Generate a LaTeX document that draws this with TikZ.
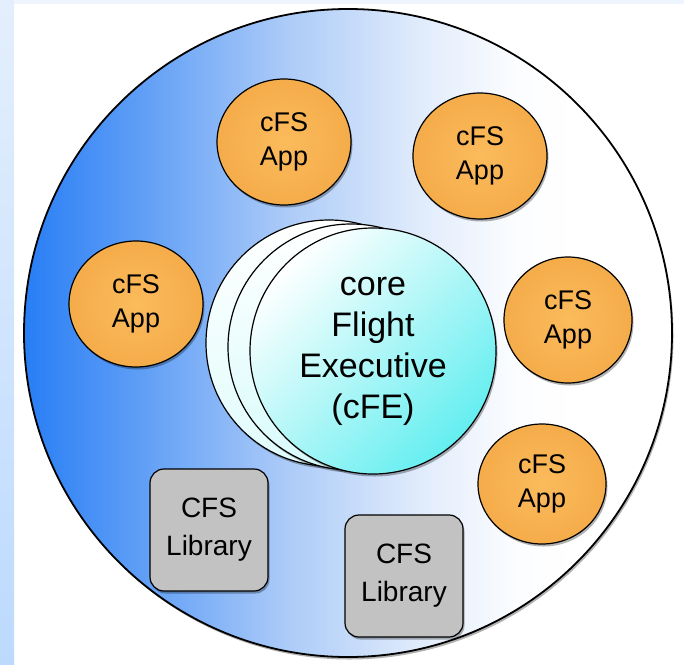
\documentclass[tikz,border=0pt]{standalone}
\usepackage{fontspec}
\setmainfont{Liberation Sans}
\usetikzlibrary{shapes.geometric,shadows}
\definecolor{discblue}{RGB}{40,126,245}
\definecolor{discmid}{RGB}{95,158,246}
\definecolor{disclight}{RGB}{170,202,248}
\definecolor{discpale}{RGB}{222,234,251}
\definecolor{discwhite}{RGB}{252,253,255}
\definecolor{appinner}{RGB}{251,187,92}
\definecolor{appouter}{RGB}{245,172,74}
\definecolor{libgray}{RGB}{194,194,194}
\definecolor{cfecyan}{RGB}{100,238,240}
\definecolor{stripTop}{RGB}{228,239,253}
\definecolor{stripBottom}{RGB}{187,218,254}
\definecolor{topstrip}{RGB}{238,245,254}
\pgfdeclarehorizontalshading{discshade}{100bp}{color(0bp)=(discblue); color(25bp)=(discblue); color(34bp)=(discmid); color(45bp)=(disclight); color(55bp)=(discpale); color(63bp)=(discwhite); color(68bp)=(white); color(100bp)=(white)}
\begin{document}
\begin{tikzpicture}[x=1pt,y=-1pt,
  softshadow/.style={drop shadow={shadow xshift=1.5pt,shadow yshift=-2.5pt,opacity=0.3,fill=black}},
  app/.style={ellipse,draw=black,line width=1.2pt,minimum width=134pt,minimum height=126pt,inner sep=0pt,
    align=center,shading=radial,inner color=appinner,outer color=appouter,softshadow,
    font=\fontsize{27}{34}\selectfont},
  lib/.style={rectangle,rounded corners=14pt,draw=black,line width=1.2pt,fill=libgray,
    minimum width=118pt,minimum height=122pt,inner sep=0pt,align=center,softshadow,
    font=\fontsize{28}{38}\selectfont},
  cfe/.style={circle,draw=black,line width=1.2pt,minimum size=246pt,inner sep=0pt,softshadow}]
\useasboundingbox (0,0) rectangle (684,664);
% background strips
\fill [top color=stripTop,bottom color=stripBottom] (0,0) rectangle (14,664);
\fill [topstrip] (14,0) rectangle (684,4);
% outer disc
\node [circle,draw=black,line width=1.8pt,minimum size=648pt,inner sep=0pt,shading=discshade,softshadow] (disc) at (348,333) {};
% core flight executive
\node [cfe,top color=white,bottom color=cfecyan!20] (cfeBack) at (329,343) {};
\node [cfe,top color=white,bottom color=cfecyan!25] (cfeMid) at (351,347) {};
\node [cfe,shading=axis,top color=white,middle color=cfecyan!15,bottom color=cfecyan,shading angle=45,
  align=center,font=\fontsize{34}{41}\selectfont] (cfeFront) at (373,351) {core\\Flight\\Executive\\(cFE)};
% applications
\node [app] (appTop) at (284,142) {cFS\\App};
\node [app] (appTopRight) at (480,156) {cFS\\App};
\node [app] (appLeft) at (136,304) {cFS\\App};
\node [app,minimum width=128pt] (appRight) at (568,320) {cFS\\App};
\node [app,minimum width=128pt,minimum height=120pt] (appLow) at (542,484) {cFS\\App};
% libraries
\node [lib] (libLeft) at (209,530) {CFS\\Library};
\node [lib] (libRight) at (404,576) {CFS\\Library};
\end{tikzpicture}
\end{document}
